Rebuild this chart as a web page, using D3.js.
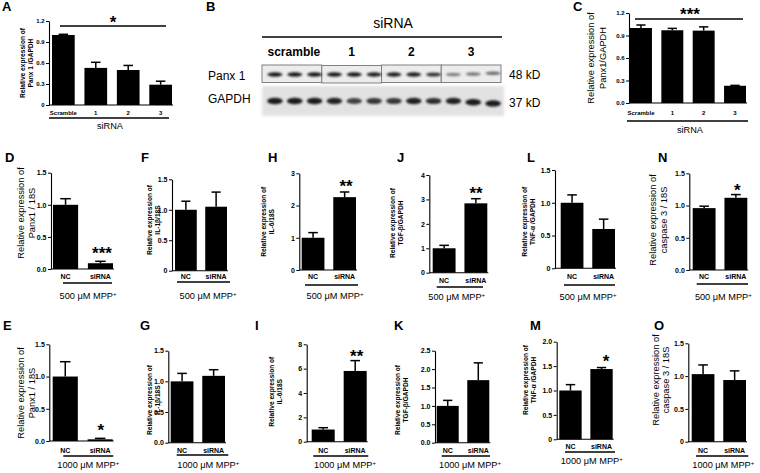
<!DOCTYPE html>
<html>
<head>
<meta charset="utf-8">
<script src="https://cdn.jsdelivr.net/npm/d3@7"></script>
<style>
  body { margin: 0; background: #fff; }
  svg { display: block; }
</style>
</head>
<body>
<script>
const FONT = '"Liberation Sans", Arial, sans-serif';

// categories
const groups = ["NC", "siRNA"];
const siCats = ["Scramble", "1", "2", "3"];
const laneGroups = ["scramble", "1", "2", "3"];

// top row (A, C) values
const aMean = [1.0, 0.53, 0.50, 0.29];
const aErr = [0.01, 0.08, 0.065, 0.05];
const cMean = [1.0, 0.97, 0.965, 0.23];
const cErr = [0.04, 0.025, 0.05, 0.005];

// 500 uM MPP+ row
const dMean = [1.0, 0.09];  const dErr = [0.095, 0.03];
const fMean = [1.0, 1.05];  const fErr = [0.14, 0.24];
const hMean = [1.0, 2.26];  const hErr = [0.16, 0.16];
const jMean = [1.0, 2.84];  const jErr = [0.12, 0.19];
const lMean = [1.0, 0.60];  const lErr = [0.12, 0.15];
const nMean = [0.96, 1.12]; const nErr = [0.03, 0.05];

// 1000 uM MPP+ row
const eMean = [1.0, 0.026]; const eErr = [0.23, 0.015];
const gMean = [1.0, 1.09];  const gErr = [0.13, 0.10];
const iMean = [1.0, 5.81];  const iErr = [0.15, 0.85];
const kMean = [1.0, 1.70];  const kErr = [0.15, 0.47];
const mMean = [1.0, 1.44];  const mErr = [0.12, 0.03];
const oMean = [1.03, 0.94]; const oErr = [0.14, 0.14];

// tick labels
const ticksAC = ["0", "0.3", "0.6", "0.9", "1.2"];
const ticksC = ["0.0", "0.3", "0.6", "0.9", "1.2"];
const ticks15 = ["0.0", "0.5", "1.0", "1.5"];
const ticks15z = ["0", "0.5", "1.0", "1.5"];
const ticks3 = ["0", "1", "2", "3"];
const ticks4 = ["0", "1", "2", "3", "4"];
const ticks8 = ["0", "2", "4", "6", "8"];
const ticks25 = ["0.0", "0.5", "1.0", "1.5", "2.0", "2.5"];
const ticks20 = ["0", "0.5", "1.0", "1.5", "2.0"];

// western blot band intensity per lane (12 lanes, 3 per group)
const panxBand = [1, 1, 1, 1, 1, 0.95, 0.95, 0.95, 0.85, 0.45, 0.5, 0.55];
const gapdhBand = [1, 1, 1, 0.95, 0.8, 0.85, 0.85, 0.95, 0.9, 0.95, 1, 1];

const svg = d3.select("body").append("svg").attr("width", 760).attr("height", 473);

function letter(t, x, y) {
  svg.append("text").attr("x", x).attr("y", y).text(t)
    .style("font", `bold 13px ${FONT}`);
}

function drawBarPanel(p) {
  const g = svg.append("g");
  const vals = p.ticks.map(Number);
  const y = d3.scaleLinear().domain([0, d3.max(vals)]).range([p.y0, p.yTop]);
  const x = d3.scaleBand().domain(p.cats).range(p.xr).paddingInner(p.pad || 0.28);

  g.append("g").attr("transform", `translate(${p.ax},0)`)
    .call(d3.axisLeft(y).tickValues(vals).tickFormat((d, i) => p.ticks[i])
      .tickSize(3).tickSizeOuter(0).tickPadding(1.5))
    .call(a => {
      a.select(".domain").attr("stroke-width", 1.1);
      a.selectAll(".tick line").attr("stroke-width", 1);
      a.selectAll("text").style("font", `bold ${p.tickFs || 7}px ${FONT}`).attr("fill", "#000");
    });

  g.append("line").attr("x1", p.ax).attr("x2", p.xr[1] + 1)
    .attr("y1", p.y0).attr("y2", p.y0).attr("stroke", "#000").attr("stroke-width", 1.1);

  g.selectAll("rect.bar").data(p.cats).join("rect").attr("class", "bar")
    .attr("x", d => x(d)).attr("width", x.bandwidth())
    .attr("y", (d, i) => y(p.mean[i]))
    .attr("height", (d, i) => p.y0 - y(p.mean[i]))
    .attr("fill", "#000");

  const cap = x.bandwidth() * 0.42;
  p.cats.forEach((c, i) => {
    const cx = x(c) + x.bandwidth() / 2;
    const top = y(p.mean[i] + p.err[i]);
    g.append("line").attr("x1", cx).attr("x2", cx).attr("y1", y(p.mean[i])).attr("y2", top)
      .attr("stroke", "#000").attr("stroke-width", 1.5);
    g.append("line").attr("x1", cx - cap / 2).attr("x2", cx + cap / 2).attr("y1", top).attr("y2", top)
      .attr("stroke", "#000").attr("stroke-width", 1.5);
    g.append("text").attr("x", cx).attr("y", p.catY).attr("text-anchor", "middle")
      .text(c).style("font", `bold ${p.catFs || 7}px ${FONT}`);
  });

  // group underline and caption
  g.append("line").attr("x1", p.ul[0]).attr("x2", p.ul[1]).attr("y1", p.ulY).attr("y2", p.ulY)
    .attr("stroke", "#000").attr("stroke-width", 1.4);
  const cap2 = g.append("text").attr("x", p.capX).attr("y", p.capY).attr("text-anchor", "middle")
    .style("font", `${p.capFs || 9.2}px ${FONT}`);
  if (p.caption) {
    cap2.text(p.caption);
  } else {
    cap2.append("tspan").text(p.dose + " \u03bcM MPP");
    cap2.append("tspan").text("+").attr("dy", -3.5).style("font-size", "6px");
  }

  // y label
  const big = p.bigLabel;
  p.ylab.forEach((t, i) => {
    g.append("text")
      .attr("transform", `translate(${p.labX[i]},${p.labY}) rotate(-90)`)
      .attr("text-anchor", "middle").attr("dominant-baseline", "central")
      .text(t)
      .style("font", big ? `${p.labFs || 9.3}px ${FONT}` : `bold ${p.labFs || 6.6}px ${FONT}`);
  });

  if (p.star) {
    g.append("text").attr("x", p.star[0]).attr("y", p.star[1] + 9)
      .attr("text-anchor", "middle").text(p.star[2])
      .style("font", `bold 17px ${FONT}`);
  }
  if (p.sig) {
    g.append("line").attr("x1", p.sig[0]).attr("x2", p.sig[1]).attr("y1", p.sig[2]).attr("y2", p.sig[2])
      .attr("stroke", "#000").attr("stroke-width", 1.4);
  }
}

// ---- panel A
letter("A", 2, 11);
drawBarPanel({
  cats: siCats, mean: aMean, err: aErr, ticks: ticksAC, tickFs: 6,
  ax: 49, yTop: 21, y0: 105, xr: [52, 172], pad: 0.3, catY: 115, catFs: 6,
  ul: [49, 169], ulY: 118, caption: "siRNA", capX: 110, capY: 129,
  ylab: ["Relative expression of", "Panx 1 /GAPDH"], labX: [22.5, 30.5], labY: 63,
  sig: [60, 166, 26], star: [113, 19, "*"]
});

// ---- panel C
letter("C", 573, 11);
drawBarPanel({
  cats: siCats, mean: cMean, err: cErr, ticks: ticksC, tickFs: 6,
  ax: 629, yTop: 13, y0: 103, xr: [630, 746], pad: 0.3, catY: 115, catFs: 6,
  ul: [627, 748], ulY: 121, caption: "siRNA", capX: 690, capY: 133,
  ylab: ["Relative expression of", "Panx1/GAPDH"], labX: [591, 603], labY: 58, bigLabel: true,
  sig: [635, 743, 19], star: [690, 11, "***"]
});

// ---- panel B (western blot)
letter("B", 206, 11);
const blot = svg.append("g");
blot.append("text").attr("x", 393).attr("y", 28).attr("text-anchor", "middle").text("siRNA")
  .style("font", `14px ${FONT}`);
blot.append("line").attr("x1", 262).attr("x2", 502).attr("y1", 37).attr("y2", 37)
  .attr("stroke", "#000").attr("stroke-width", 1.4);
const lanes = d3.range(12);
const lx = d3.scaleBand().domain(lanes).range([265, 503]);
const gx = d3.scaleBand().domain(laneGroups).range([262, 501]);
laneGroups.forEach(gname => {
  blot.append("text").attr("x", gx(gname) + gx.bandwidth() / 2 + (gname === "scramble" ? 2 : 0))
    .attr("y", 56).attr("text-anchor", "middle").text(gname)
    .style("font", `bold 12px ${FONT}`);
});
blot.append("text").attr("x", 208).attr("y", 80).text("Panx 1").style("font", `12px ${FONT}`);
blot.append("text").attr("x", 208).attr("y", 103).text("GAPDH").style("font", `12px ${FONT}`);
blot.append("text").attr("x", 509).attr("y", 79).text("48 kD").style("font", `12px ${FONT}`);
blot.append("text").attr("x", 509).attr("y", 107).text("37 kD").style("font", `12px ${FONT}`);

const defs = svg.append("defs");
defs.append("filter").attr("id", "blur").attr("x", "-50%").attr("y", "-100%").attr("width", "200%").attr("height", "300%")
  .append("feGaussianBlur").attr("stdDeviation", "1.1 0.8");
defs.append("filter").attr("id", "blur2").append("feGaussianBlur").attr("stdDeviation", 1.5);

blot.append("rect").attr("x", 262).attr("y", 86).attr("width", 242).attr("height", 30)
  .attr("fill", "#e2e2e2").attr("filter", "url(#blur2)");
laneGroups.forEach((gname, gi) => {
  blot.append("rect").attr("x", gx(gname)).attr("y", 65 + (gi === 1 ? 0.5 : 0))
    .attr("width", gx.bandwidth()).attr("height", 17.5)
    .attr("fill", "#ececec").attr("stroke", "#808080").attr("stroke-width", 1);
});
const shade = d3.scaleLinear().domain([0, 1]).range(["#d8d8d8", "#1a1a1a"]);
blot.selectAll("ellipse.panx").data(lanes).join("ellipse").attr("class", "panx")
  .attr("cx", d => lx(d) + lx.bandwidth() / 2).attr("cy", d => 74.5 - (d >= 9 ? (d - 9) * 0.6 : 0))
  .attr("rx", 7.5).attr("ry", d => 1.3 + panxBand[d] * 0.9)
  .attr("fill", d => shade(panxBand[d])).attr("filter", "url(#blur)");
blot.selectAll("ellipse.gapdh").data(lanes).join("ellipse").attr("class", "gapdh")
  .attr("cx", d => lx(d) + lx.bandwidth() / 2).attr("cy", d => 101 + (d >= 10 ? (d - 9) * 1.2 : 0))
  .attr("rx", 7.8).attr("ry", d => 2 + gapdhBand[d] * 1.2)
  .attr("fill", d => shade(gapdhBand[d])).attr("filter", "url(#blur)");

// ---- row 500 uM
const r1 = { catY: 279, dose: "500", capY: 299 };
letter("D", 5, 162);
drawBarPanel(Object.assign({}, r1, {
  cats: groups, mean: dMean, err: dErr, ticks: ticks15,
  ax: 51, yTop: 172.7, y0: 269, xr: [53, 113], ul: [63, 112], ulY: 283, capX: 88,
  ylab: ["Relative expression of", "Panx1 / 18S"], labX: [21, 32], labY: 213, bigLabel: true,
  star: [102, 250, "***"]
}));
letter("F", 141, 162);
drawBarPanel(Object.assign({}, r1, {
  cats: groups, mean: fMean, err: fErr, ticks: ticks15z,
  ax: 172, yTop: 179.3, y0: 270.7, xr: [175, 227], ul: [177, 230], ulY: 282, capX: 208,
  ylab: ["Relative expression of", "IL-1\u03b2/18S"], labX: [149.5, 157.5], labY: 220
}));
letter("H", 268, 162);
drawBarPanel(Object.assign({}, r1, {
  cats: groups, mean: hMean, err: hErr, ticks: ticks3,
  ax: 299.3, yTop: 173.3, y0: 270, xr: [301.7, 356], ul: [305, 358], ulY: 285, capX: 335,
  ylab: ["Relative expression of", "IL-6/18S"], labX: [263, 271.5], labY: 221.7,
  star: [346, 183, "**"]
}));
letter("J", 397, 162);
drawBarPanel(Object.assign({}, r1, {
  cats: groups, mean: jMean, err: jErr, ticks: ticks4, catY: 283,
  ax: 429.3, yTop: 175, y0: 272.7, xr: [432.7, 487.3], ul: [436.7, 483], ulY: 287, capX: 456.7, capY: 300,
  ylab: ["Relative expression of", "TGF-\u03b2/GAPDH"], labX: [392, 400], labY: 223,
  star: [476, 190, "**"]
}));
letter("L", 527, 162);
drawBarPanel(Object.assign({}, r1, {
  cats: groups, mean: lMean, err: lErr, ticks: ticks15z,
  ax: 555, yTop: 170, y0: 268.3, xr: [560.7, 615], ul: [564, 615], ulY: 285, capX: 588, capY: 300,
  ylab: ["Relative expression of", "TNF-\u03b1 /GAPDH"], labX: [524.5, 532.5], labY: 221.7
}));
letter("N", 658, 162);
drawBarPanel(Object.assign({}, r1, {
  cats: groups, mean: nMean, err: nErr, ticks: ticks15,
  ax: 689.3, yTop: 173.3, y0: 270, xr: [692.7, 747.3], ul: [696.7, 748], ulY: 284, capX: 723.3, capY: 300,
  ylab: ["Relative expression of", "caspase 3 / 18S"], labX: [653, 664], labY: 220, bigLabel: true,
  star: [737.3, 186.7, "*"]
}));

// ---- row 1000 uM
const r2 = { catY: 452.5, dose: "1000", capY: 468 };
letter("E", 3, 330);
drawBarPanel(Object.assign({}, r2, {
  cats: groups, mean: eMean, err: eErr, ticks: ticks15,
  ax: 49.3, yTop: 344.3, y0: 441, xr: [52.7, 112.7], ul: [63.3, 113.3], ulY: 456, capX: 88.3,
  ylab: ["Relative expression of", "Panx1 / 18S"], labX: [21, 31.5], labY: 393, bigLabel: true,
  star: [100.7, 427.3, "*"]
}));
letter("G", 140, 330);
drawBarPanel(Object.assign({}, r2, {
  cats: groups, mean: gMean, err: gErr, ticks: ticks15,
  ax: 168.3, yTop: 350.7, y0: 442.7, xr: [170.7, 225], ul: [176.7, 228.3], ulY: 455, capX: 208.3,
  ylab: ["Relative expression of", "IL-1\u03b2/18S"], labX: [149, 157], labY: 400
}));
letter("I", 255, 330);
drawBarPanel(Object.assign({}, r2, {
  cats: groups, mean: iMean, err: iErr, ticks: ticks8, catY: 453,
  ax: 306.7, yTop: 344.3, y0: 441.7, xr: [311.7, 366.7], ul: [313.3, 368.3], ulY: 456, capX: 345,
  ylab: ["Relative expression of", "IL-6/18S"], labX: [271, 279], labY: 391.7,
  star: [356.7, 352.7, "**"]
}));
letter("K", 394, 330);
drawBarPanel(Object.assign({}, r2, {
  cats: groups, mean: kMean, err: kErr, ticks: ticks25, catY: 453,
  ax: 435, yTop: 350.7, y0: 442.7, xr: [436.7, 489.3], ul: [441.7, 490], ulY: 456, capX: 470,
  ylab: ["Relative expression of", "TGF-\u03b2/GAPDH"], labX: [397.5, 405.5], labY: 400
}));
letter("M", 530, 330);
drawBarPanel(Object.assign({}, r2, {
  cats: groups, mean: mMean, err: mErr, ticks: ticks20, catY: 449,
  ax: 556.7, yTop: 341.7, y0: 439.3, xr: [559.3, 612.7], ul: [565, 615], ulY: 452, capX: 591.7, capY: 464,
  ylab: ["Relative expression of", "TNF-\u03b1 /GAPDH"], labX: [525.5, 533.5], labY: 380,
  star: [606, 358.3, "*"]
}));
letter("O", 654, 330);
drawBarPanel(Object.assign({}, r2, {
  cats: groups, mean: oMean, err: oErr, ticks: ticks15z,
  ax: 688.3, yTop: 343.3, y0: 441.7, xr: [691.7, 746], ul: [696, 748.3], ulY: 456, capX: 723.3,
  ylab: ["Relative expression of", "caspase 3 / 18S"], labX: [655.5, 666], labY: 380, bigLabel: true
}));
</script>
</body>
</html>
